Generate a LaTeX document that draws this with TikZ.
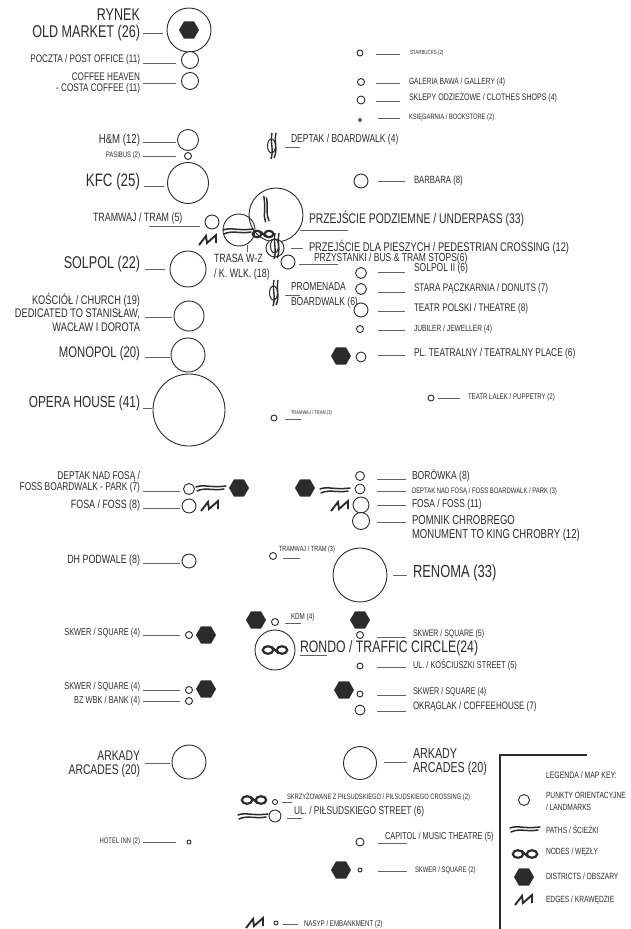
\documentclass[tikz,border=0pt]{standalone}
\usepackage{fontspec}
\setmainfont[FakeStretch=0.74]{Liberation Sans}
\usetikzlibrary{shapes.geometric}
\definecolor{ink}{HTML}{2B2B2B}
\tikzset{
  lm/.style={circle,draw=ink,line width=0.9pt,inner sep=0pt,outer sep=0pt,fill=white},
  hexa/.style={regular polygon,regular polygon sides=6,shape border rotate=0,fill=ink,draw=none,inner sep=0pt,outer sep=0pt},
  leader/.style={draw=ink!75,line width=0.6pt},
  txt/.style={inner sep=0pt,outer sep=0pt,text=ink},
  pics/wavy/.style={code={
    \draw[ink,line width=1.5pt,line cap=round] (-15,-1) .. controls (-7,-4) and (-2,0) .. (15,-2);
    \draw[ink,line width=1.5pt,line cap=round] (-14,3) .. controls (-6,-1) and (2,3) .. (13,1);
  }},
  pics/knot/.style={code={
    \draw[ink,line width=2.2pt] (-7,0) ellipse (5.2 and 3.8) (7,0) ellipse (5.2 and 3.8);
    \draw[ink,line width=2.2pt] (-3.5,-3) -- (3.5,3);
  }},
  pics/zig/.style={code={
    \draw[ink,line width=1.9pt,line join=miter] (-9,5) -- (-2,-4) -- (-1,3) -- (8,-5) -- (8,3);
  }},
  pics/hashg/.style={code={
    \draw[ink,line width=1.4pt] (-1,-13) .. controls (-3,-4) and (1,4) .. (-2,13);
    \draw[ink,line width=1.4pt] (3,-13) .. controls (1,-4) and (5,4) .. (1,12);
    \draw[ink,line width=1pt] (-1.5,0) ellipse (4 and 7);
  }}
}
\newcommand\Lm[4]{\node[lm,minimum size=#4*2pt] (#1) at (#2,#3) {};}
\newcommand\Hx[3]{\node[hexa,minimum size=20pt] (#1) at (#2,#3) {};}
\newcommand\Ldr[4]{\coordinate (#1a) at (#2,#4); \coordinate (#1b) at (#3,#4); \draw[leader] (#1a) -- (#1b);}
\newcommand\TxR[6]{\node[txt,anchor=east,align=right,font=\fontsize{#4}{#5}\selectfont] (#1) at (#2,#3) {#6};}
\newcommand\TxL[6]{\node[txt,anchor=west,align=left,font=\fontsize{#4}{#5}\selectfont] (#1) at (#2,#3) {#6};}
\begin{document}
\begin{tikzpicture}[x=1pt,y=-1pt]
\useasboundingbox (0,0) rectangle (631,929);
% ---- left column
\Lm{c1}{189}{30}{22} \Hx{h1}{189}{30}
\TxR{t1}{140}{25}{17}{16.5}{RYNEK\\OLD MARKET (26)} \Ldr{l1}{143}{163}{33}
\Lm{c2}{190}{60}{8.5} \TxR{t2}{140}{60}{11}{12}{POCZTA / POST OFFICE (11)} \Ldr{l2}{143}{176}{63}
\Lm{c3}{190}{81}{8.5} \TxR{t3}{140}{83}{11}{11}{COFFEE HEAVEN\\- COSTA COFFEE (11)} \Ldr{l3}{143}{176}{83}
\Lm{c4}{188}{140}{10.5} \TxR{t4}{140}{140}{13}{13}{H\&M (12)} \Ldr{l4}{143}{176}{142}
\Lm{c5}{188}{156}{3.5} \TxR{t5}{140}{155}{8}{8}{PASIBUS (2)} \Ldr{l5}{143}{176}{156}
\Lm{c6}{188}{183}{20.5} \TxR{t6}{140}{182}{18}{18}{KFC (25)} \Ldr{l6}{144}{164}{186}
\Lm{c7}{188}{269}{18} \TxR{t7}{140}{264}{17}{17}{SOLPOL (22)} \Ldr{l7}{145}{165}{269}
\Lm{c8}{189}{316}{15} \TxR{t8}{140}{312}{12.5}{13.5}{KOŚCIÓŁ / CHURCH (19)\\DEDICATED TO STANISŁAW,\\WACŁAW I DOROTA} \Ldr{l8}{145}{172}{317}
\Lm{c9}{188}{355}{17} \TxR{t9}{140}{354}{15.3}{16}{MONOPOL (20)} \Ldr{l9}{145}{170}{357}
\Lm{c10}{189}{410}{36} \TxR{t10}{140}{403}{16}{16}{OPERA HOUSE (41)} \Ldr{l10}{143}{152}{408}
\Lm{c11}{189}{489}{5.5} \TxR{t11}{140}{482}{11.3}{11}{DEPTAK NAD FOSĄ /\\FOSS BOARDWALK - PARK (7)} \Ldr{l11}{143}{180}{491}
\pic at (211,488) {wavy}; \Hx{h11}{239}{488}
\Lm{c12}{189}{506}{7} \TxR{t12}{140}{505}{12}{12}{FOSA / FOSS (8)} \Ldr{l12}{143}{180}{508}
\pic at (210,506) {zig};
\Lm{c13}{189}{561}{7} \TxR{t13}{140}{560}{12}{12}{DH PODWALE (8)} \Ldr{l13}{143}{180}{563}
\Lm{c14}{189}{635}{3.5} \Hx{h14}{206}{635} \TxR{t14}{140}{633}{10}{10}{SKWER / SQUARE (4)} \Ldr{l14}{143}{180}{635}
\Lm{c15}{189}{690}{3.5} \Hx{h15}{206}{689} \TxR{t15}{140}{687}{10}{10}{SKWER / SQUARE (4)} \Ldr{l15}{143}{180}{690}
\Lm{c16}{189}{701}{3.5} \TxR{t16}{140}{701}{10}{10}{BZ WBK / BANK (4)} \Ldr{l16}{143}{180}{701}
\Lm{c17}{189}{762}{17} \TxR{t17}{140}{764}{14}{14}{ARKADY\\ARCADES (20)} \Ldr{l17}{145}{170}{763}
\Lm{c18}{189}{842}{2} \TxR{t18}{140}{841}{8}{8}{HOTEL INN (2)} \Ldr{l18}{143}{176}{842}
% ---- centre cluster
\Lm{c19}{212}{222}{7} \TxL{t19}{93}{218}{12}{12}{TRAMWAJ / TRAM (5)} \Ldr{l19}{149}{200}{226}
\pic at (208,240) {zig};
\node[lm,fill=none,minimum size=32pt] (c20) at (239,230) {};
\node[lm,fill=none,minimum size=54pt] (c21) at (276,215) {};
\pic[rotate=92,scale=0.85] at (266,209) {wavy};
\pic at (238,231) {wavy};
\pic[scale=0.85] at (263,234) {knot};
\Lm{c22}{275}{248}{9} \pic at (276,246) {hashg};
\Lm{c23}{288}{262}{7}
\coordinate (l24a) at (247,245); \coordinate (l24b) at (247,252); \draw[leader] (l24a) -- (l24b);
\TxL{t24}{214}{267}{12}{14.5}{TRASA W-Z\\/ K. WLK. (18)}
\TxL{t25}{309}{219}{14}{16}{PRZEJŚCIE PODZIEMNE / UNDERPASS (33)} \Ldr{l25}{300}{348}{230}
\TxL{t26}{309}{247}{12.6}{14}{PRZEJŚCIE DLA PIESZYCH / PEDESTRIAN CROSSING (12)} \Ldr{l26}{291}{303}{248}
\TxL{t27}{314}{259}{11.5}{12}{PRZYSTANKI / BUS \& TRAM STOPS(6)} \Ldr{l27}{299}{338}{264}
\pic at (275,293) {hashg}; \TxL{t28}{291}{295.5}{11.5}{15}{PROMENADA\\BOARDWALK (6)} \Ldr{l28}{285}{300}{295}
\pic at (273,146) {hashg}; \TxL{t29}{291}{140}{11.5}{12}{DEPTAK / BOARDWALK (4)} \Ldr{l29}{285}{300}{147}
\Lm{c30}{274}{418}{3} \TxL{t30}{291}{413}{5.5}{6}{TRAMWAJ / TRAM (3)} \Ldr{l30}{285}{301}{419}
\Lm{c31}{273}{556}{3.5} \TxL{t31}{279}{550}{7.5}{8}{TRAMWAJ / TRAM (3)} \Ldr{l31}{283}{300}{558}
\Hx{h32}{256}{620} \Lm{c32}{275}{622}{3.5} \TxL{t32}{291}{617}{8.5}{9}{KDM (4)} \Ldr{l32}{285}{301}{623}
\Lm{c33}{275}{650}{20} \pic at (275,650) {knot};
\TxL{t33}{300}{648}{16.6}{17}{RONDO / TRAFFIC CIRCLE(24)} \Ldr{l33}{300}{327}{655}
\pic at (254,800) {knot}; \Lm{c34}{275}{802}{2.5} \TxL{t34}{287}{797}{7.8}{8}{SKRZYŻOWANE Z PIŁSUDSKIEGO / PIŁSUDSKIEGO CROSSING (2)} \Ldr{l34}{282}{292}{802}
\pic at (253,816) {wavy}; \Lm{c35}{275}{816}{6} \TxL{t35}{294}{812}{11.3}{11}{UL. / PIŁSUDSKIEGO STREET (6)} \Ldr{l35}{287}{302}{818}
\pic at (255,923) {zig}; \Lm{c36}{276}{923}{2} \TxL{t36}{304}{924}{8.3}{9}{NASYP / EMBANKMENT (2)} \Ldr{l36}{283}{298}{924}
% ---- right column
\Lm{c40}{360}{53}{3} \TxL{t40}{410}{53}{6}{7}{STARBUCKS (2)} \Ldr{l40}{376}{400}{54}
\Lm{c41}{361}{82}{3.5} \TxL{t41}{409}{82}{9}{10}{GALERIA BAWA / GALLERY (4)} \Ldr{l41}{376}{400}{83}
\Lm{c42}{361}{100}{4} \TxL{t42}{409}{97}{9.5}{10}{SKLEPY ODZIEŻOWE / CLOTHES SHOPS (4)} \Ldr{l42}{376}{400}{101}
\Lm{c43}{360}{120}{1.5} \TxL{t43}{409}{117}{7.8}{8}{KSIĘGARNIA / BOOKSTORE (2)} \Ldr{l43}{378}{400}{118}
\Lm{c44}{361}{181}{7} \TxL{t44}{414}{181}{10.5}{11}{BARBARA (8)} \Ldr{l44}{378}{405}{181}
\Lm{c45}{361}{273}{5.5} \TxL{t45}{414}{269}{11.5}{11}{SOLPOL II (6)} \Ldr{l45}{378}{405}{272}
\Lm{c46}{361}{289}{5.5} \TxL{t46}{414}{289}{11}{11}{STARA PĄCZKARNIA / DONUTS (7)} \Ldr{l46}{378}{405}{292}
\Lm{c47}{361}{310}{7} \TxL{t47}{414}{309}{11}{11}{TEATR POLSKI / THEATRE (8)} \Ldr{l47}{378}{405}{311}
\Lm{c48}{360}{329}{3.5} \TxL{t48}{414}{329}{9}{9}{JUBILER / JEWELLER (4)} \Ldr{l48}{378}{405}{330}
\Hx{h49}{341}{356} \Lm{c49}{361}{357}{5} \TxL{t49}{414}{354}{11.3}{11}{PL. TEATRALNY / TEATRALNY PLACE (6)} \Ldr{l49}{378}{405}{355}
\Lm{c50}{431}{398}{3} \TxL{t50}{468}{397}{8.2}{8}{TEATR LALEK / PUPPETRY (2)} \Ldr{l50}{438}{460}{398}
\Lm{c51}{360}{476}{4.5} \TxL{t51}{412}{476}{11.6}{11}{BORÓWKA (8)} \Ldr{l51}{377}{406}{479}
\Hx{h52}{305}{488} \pic at (335,490) {wavy}; \Lm{c52}{360}{489}{5} \TxL{t52}{412}{491}{8}{8}{DEPTAK NAD FOSĄ / FOSS BOARDWALK / PARK (3)} \Ldr{l52}{377}{406}{491}
\pic at (340,506) {zig}; \Lm{c53}{361}{505}{8} \TxL{t53}{412}{505}{11.4}{11}{FOSA / FOSS (11)} \Ldr{l53}{377}{406}{505}
\Lm{c54}{361}{521}{8.5} \TxL{t54}{412}{528}{12.9}{14}{POMNIK CHROBREGO\\MONUMENT TO KING CHROBRY (12)} \Ldr{l54}{377}{406}{522}
\Lm{c55}{360}{575}{27} \TxL{t55}{413}{573}{17.5}{18}{RENOMA (33)} \Ldr{l55}{393}{407}{575}
\Hx{h56}{360}{620} \Lm{c56}{360}{635}{3.5} \TxL{t56}{413}{634}{9.4}{9}{SKWER / SQUARE (5)} \Ldr{l56}{377}{406}{637}
\Lm{c57}{360}{666}{3} \TxL{t57}{413}{665}{9.9}{10}{UL. / KOŚCIUSZKI STREET (5)} \Ldr{l57}{377}{406}{667}
\Hx{h58}{344}{690} \Lm{c58}{360}{694}{3} \TxL{t58}{413}{692}{9.7}{10}{SKWER / SQUARE (4)} \Ldr{l58}{377}{406}{695}
\Lm{c59}{360}{710}{5} \TxL{t59}{413}{707}{10.8}{11}{OKRĄGLAK / COFFEEHOUSE (7)} \Ldr{l59}{377}{406}{711}
\Lm{c60}{360}{763}{16.5} \TxL{t60}{413}{762}{14.5}{14}{ARKADY\\ARCADES (20)} \Ldr{l60}{384}{407}{762}
\Lm{c61}{360}{842}{4} \TxL{t61}{385}{837}{10}{10}{CAPITOL / MUSIC THEATRE (5)} \Ldr{l61}{378}{407}{843}
\Hx{h62}{341}{870} \Lm{c62}{360}{870}{2} \TxL{t62}{415}{870}{8}{8}{SKWER / SQUARE (2)} \Ldr{l62}{378}{407}{871}
% ---- legend
\coordinate (k0) at (587,755); \coordinate (k1) at (500,755); \coordinate (k2) at (500,929);
\draw[ink,line width=1.3pt] (k0) -- (k1) -- (k2);
\TxL{k3}{546}{775}{9.3}{10}{LEGENDA / MAP KEY:}
\Lm{k4c}{524}{800}{5.5} \TxL{k4}{546}{801}{9}{12}{PUNKTY ORIENTACYJNE\\/ LANDMARKS}
\pic at (525,829) {wavy}; \TxL{k5}{546}{829}{9}{10}{PATHS / ŚCIEŻKI}
\pic at (525,854) {knot}; \TxL{k6}{546}{852}{9}{10}{NODES / WĘZŁY}
\Hx{k7h}{524}{877} \TxL{k7}{546}{876}{9}{10}{DISTRICTS / OBSZARY}
\pic at (524,900) {zig}; \TxL{k8}{546}{900}{9}{10}{EDGES / KRAWĘDZIE}
\end{tikzpicture}
\end{document}
